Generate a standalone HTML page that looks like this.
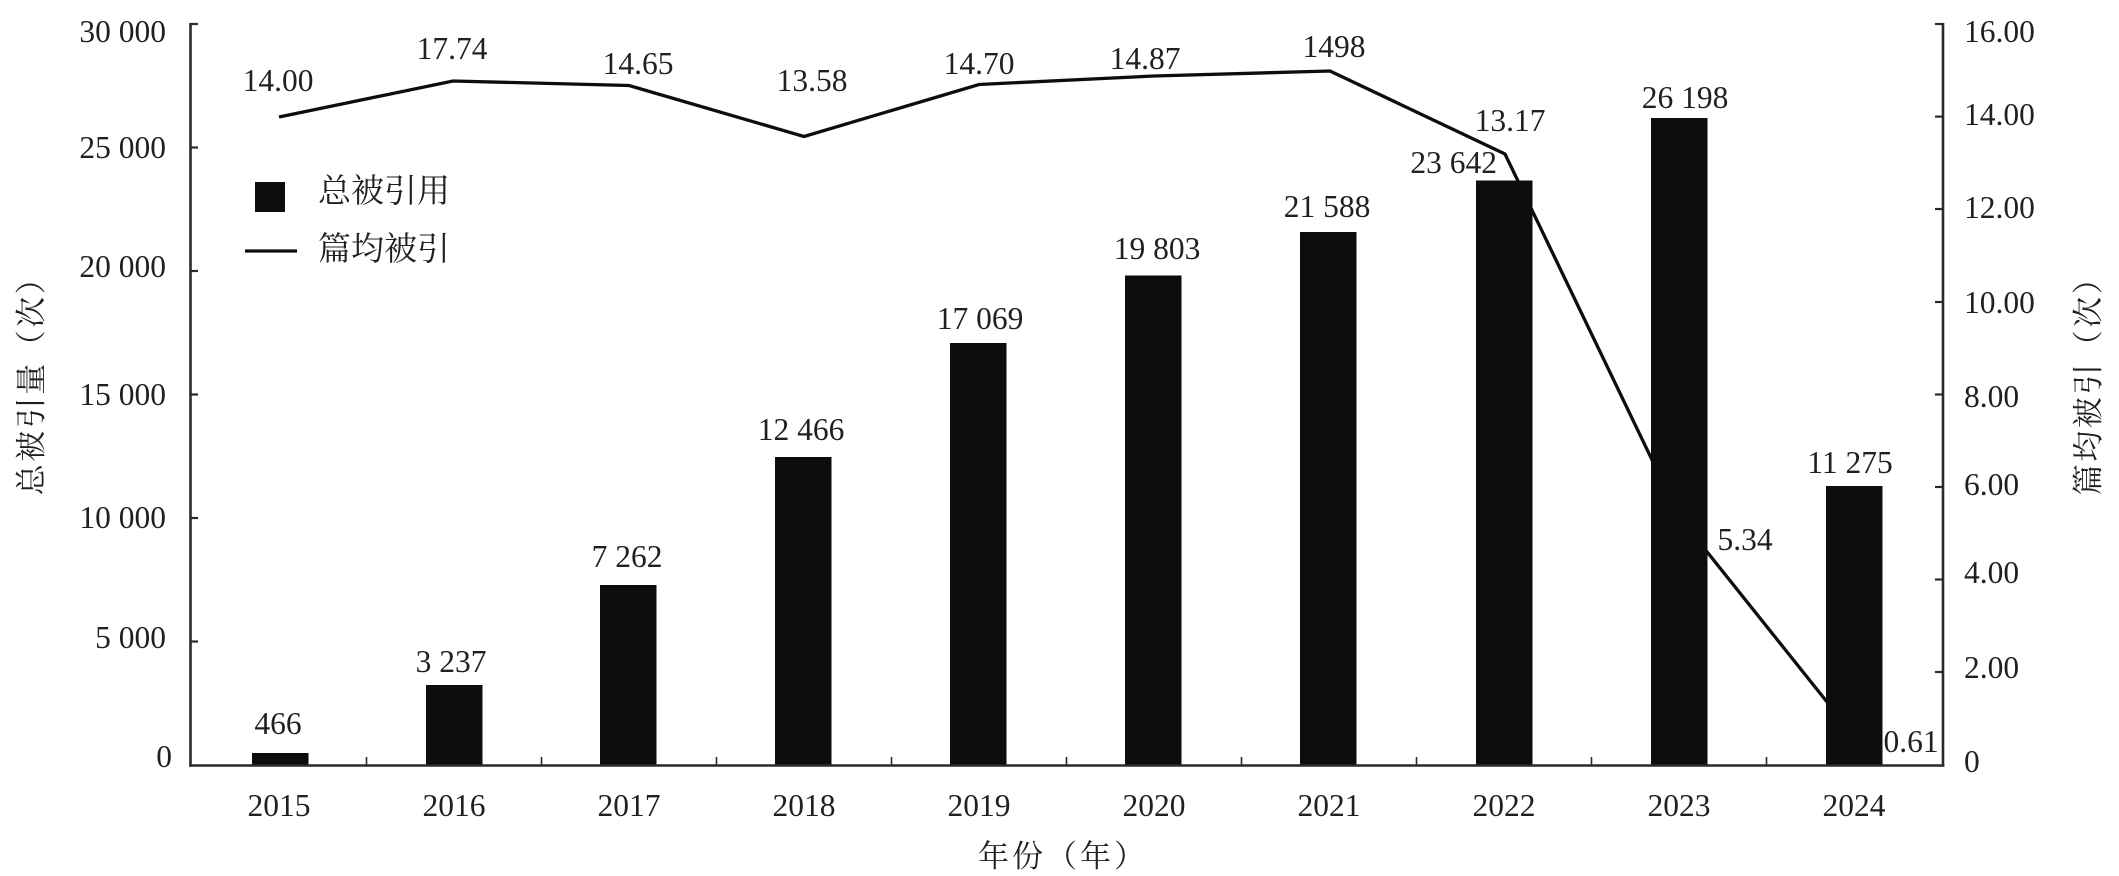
<!DOCTYPE html>
<html>
<head>
<meta charset="utf-8">
<style>
  html, body { margin: 0; padding: 0; background: #ffffff; }
  svg { display: block; }
  .n { font-family: "Liberation Serif", "Noto Serif CJK SC", serif; font-size: 31.5px; fill: #231f20; }
  .c { font-family: "Liberation Serif", "Noto Serif CJK SC", serif; fill: #231f20; }
</style>
</head>
<body>
<svg width="2119" height="876" viewBox="0 0 2119 876" xmlns="http://www.w3.org/2000/svg">
  <rect x="0" y="0" width="2119" height="876" fill="#ffffff"/>

  <polyline fill="none" stroke="#0d0d0d" stroke-width="3.3" stroke-linejoin="miter"
    points="279,117 453,81 629,85.5 804,136.5 979,84.5 1154,76 1330,71 1505,154 1680,518 1855,737"/>

  <g fill="#0d0d0d">
    <rect x="252" y="753" width="56.5" height="12.5"/>
    <rect x="426" y="685" width="56.5" height="80.5"/>
    <rect x="600" y="585" width="56.5" height="180.5"/>
    <rect x="775" y="457" width="56.5" height="308.5"/>
    <rect x="950" y="343" width="56.5" height="422.5"/>
    <rect x="1125" y="275.5" width="56.5" height="490"/>
    <rect x="1300" y="232" width="56.5" height="533.5"/>
    <rect x="1476" y="180.5" width="56.5" height="585"/>
    <rect x="1651" y="118" width="56.5" height="647.5"/>
    <rect x="1826" y="486" width="56.5" height="279.5"/>
  </g>

  <g stroke="#2a2a2a" stroke-width="2.6" fill="none">
    <line x1="190.5" y1="23" x2="190.5" y2="766.8"/>
    <line x1="1943" y1="23" x2="1943" y2="766.8"/>
    <line x1="189.2" y1="765.5" x2="1944.3" y2="765.5"/>
  </g>
  <g stroke="#2a2a2a" stroke-width="2.2">
    <line x1="190" y1="24" x2="198" y2="24"/>
    <line x1="190" y1="147.5" x2="198" y2="147.5"/>
    <line x1="190" y1="271" x2="198" y2="271"/>
    <line x1="190" y1="394.5" x2="198" y2="394.5"/>
    <line x1="190" y1="518" x2="198" y2="518"/>
    <line x1="190" y1="641.5" x2="198" y2="641.5"/>
    <line x1="1935" y1="24" x2="1943" y2="24"/>
    <line x1="1935" y1="116.6" x2="1943" y2="116.6"/>
    <line x1="1935" y1="209" x2="1943" y2="209"/>
    <line x1="1935" y1="302" x2="1943" y2="302"/>
    <line x1="1935" y1="394.5" x2="1943" y2="394.5"/>
    <line x1="1935" y1="487" x2="1943" y2="487"/>
    <line x1="1935" y1="579.5" x2="1943" y2="579.5"/>
    <line x1="1935" y1="672" x2="1943" y2="672"/>
  </g>
  <g stroke="#2a2a2a" stroke-width="1.6">
    <line x1="366.5" y1="757" x2="366.5" y2="765"/>
    <line x1="541.5" y1="757" x2="541.5" y2="765"/>
    <line x1="716.5" y1="757" x2="716.5" y2="765"/>
    <line x1="891.5" y1="757" x2="891.5" y2="765"/>
    <line x1="1066.5" y1="757" x2="1066.5" y2="765"/>
    <line x1="1241.5" y1="757" x2="1241.5" y2="765"/>
    <line x1="1416.5" y1="757" x2="1416.5" y2="765"/>
    <line x1="1591.5" y1="757" x2="1591.5" y2="765"/>
    <line x1="1766.5" y1="757" x2="1766.5" y2="765"/>
  </g>

  <g class="n" text-anchor="end">
    <text x="166" y="42">30 000</text>
    <text x="166" y="158">25 000</text>
    <text x="166" y="277">20 000</text>
    <text x="166" y="405">15 000</text>
    <text x="166" y="528">10 000</text>
    <text x="166" y="648">5 000</text>
    <text x="172" y="767">0</text>
  </g>

  <g class="n" text-anchor="start">
    <text x="1964" y="42">16.00</text>
    <text x="1964" y="125">14.00</text>
    <text x="1964" y="218">12.00</text>
    <text x="1964" y="313">10.00</text>
    <text x="1964" y="407">8.00</text>
    <text x="1964" y="495">6.00</text>
    <text x="1964" y="583">4.00</text>
    <text x="1964" y="678">2.00</text>
    <text x="1964" y="772">0</text>
  </g>

  <g class="n" text-anchor="middle">
    <text x="279" y="816">2015</text>
    <text x="454" y="816">2016</text>
    <text x="629" y="816">2017</text>
    <text x="804" y="816">2018</text>
    <text x="979" y="816">2019</text>
    <text x="1154" y="816">2020</text>
    <text x="1329" y="816">2021</text>
    <text x="1504" y="816">2022</text>
    <text x="1679" y="816">2023</text>
    <text x="1854" y="816">2024</text>
  </g>

  <g class="n" text-anchor="middle">
    <text x="278" y="734">466</text>
    <text x="451" y="672">3 237</text>
    <text x="627" y="567">7 262</text>
    <text x="801" y="440">12 466</text>
    <text x="980" y="329">17 069</text>
    <text x="1157" y="259">19 803</text>
    <text x="1327" y="217">21 588</text>
    <text x="1497" y="173" text-anchor="end">23 642</text>
    <text x="1685" y="108">26 198</text>
    <text x="1850" y="473">11 275</text>
  </g>

  <g class="n" text-anchor="middle">
    <text x="278" y="91">14.00</text>
    <text x="452" y="59">17.74</text>
    <text x="638" y="74">14.65</text>
    <text x="812" y="91">13.58</text>
    <text x="979" y="74">14.70</text>
    <text x="1145" y="69">14.87</text>
    <text x="1334" y="57">1498</text>
    <text x="1510" y="131">13.17</text>
    <text x="1745" y="550">5.34</text>
    <text x="1911" y="752">0.61</text>
  </g>

  <rect x="255" y="182" width="30" height="30" fill="#0d0d0d"/>
  <line x1="245" y1="251" x2="297" y2="251" stroke="#0d0d0d" stroke-width="3.3"/>
  <text class="c" x="318" y="202" font-size="33">总被引用</text>
  <text class="c" x="318" y="260" font-size="33">篇均被引</text>

  <text class="c" font-size="31" letter-spacing="2.5" text-anchor="middle" transform="translate(42,378) rotate(-90)">总被引量（次）</text>
  <text class="c" font-size="31" letter-spacing="2.5" text-anchor="middle" transform="translate(2099,378) rotate(-90)">篇均被引（次）</text>
  <text class="c" font-size="31" letter-spacing="3" x="978" y="867">年份（年）</text>
</svg>
</body>
</html>
